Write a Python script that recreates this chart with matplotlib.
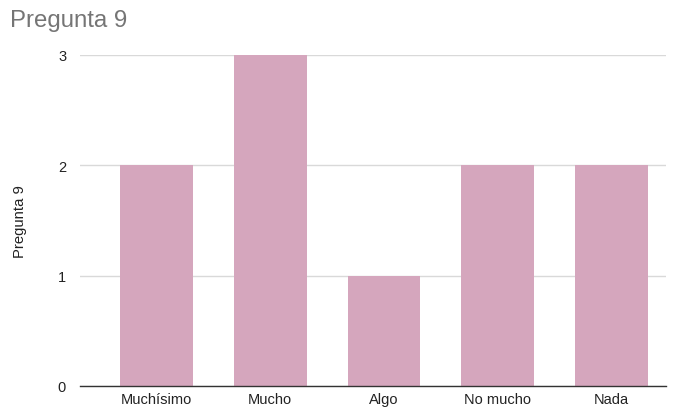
import matplotlib
matplotlib.use("Agg")
import matplotlib.pyplot as plt

plt.rcParams['font.family'] = ['Liberation Sans', 'DejaVu Sans']

categories = ["Muchísimo", "Mucho", "Algo", "No mucho", "Nada"]
values = [2, 3, 1, 2, 2]
yticks = [0, 1, 2, 3]

fig = plt.figure(figsize=(6.78, 4.10), dpi=100)
ax = fig.add_axes([80/678, 1-387/410, (666-80)/678, (387-56)/410])

x = list(range(len(categories)))
ax.bar(x, values, width=0.64, color="#d5a6bd", zorder=3)
ax.set_xlim(-0.671, 4.478)
ax.set_ylim(0, 3)
ax.set_yticks(yticks)
ax.set_yticklabels([str(t) for t in yticks], fontsize=10.5, color="#222222")
ax.set_xticks(x)
ax.set_xticklabels(categories, fontsize=10.5, color="#222222")
ax.tick_params(axis='x', length=0, pad=4)
ax.tick_params(axis='y', length=0, pad=10)
ax.grid(axis='y', color="#d9d9d9", linewidth=1, zorder=0)
for s in ['top', 'right', 'left']:
    ax.spines[s].set_visible(False)
ax.spines['bottom'].set_color("#333333")
ax.spines['bottom'].set_linewidth(1)
ax.spines['bottom'].set_zorder(4)
ax.set_ylabel("Pregunta 9", fontsize=10.7, color="#222222", labelpad=22)
fig.text(10/678, 1-21/410, "Pregunta 9", fontsize=17.3, color="#757575", va='center', ha='left')

fig.savefig("out.png", dpi=100)
